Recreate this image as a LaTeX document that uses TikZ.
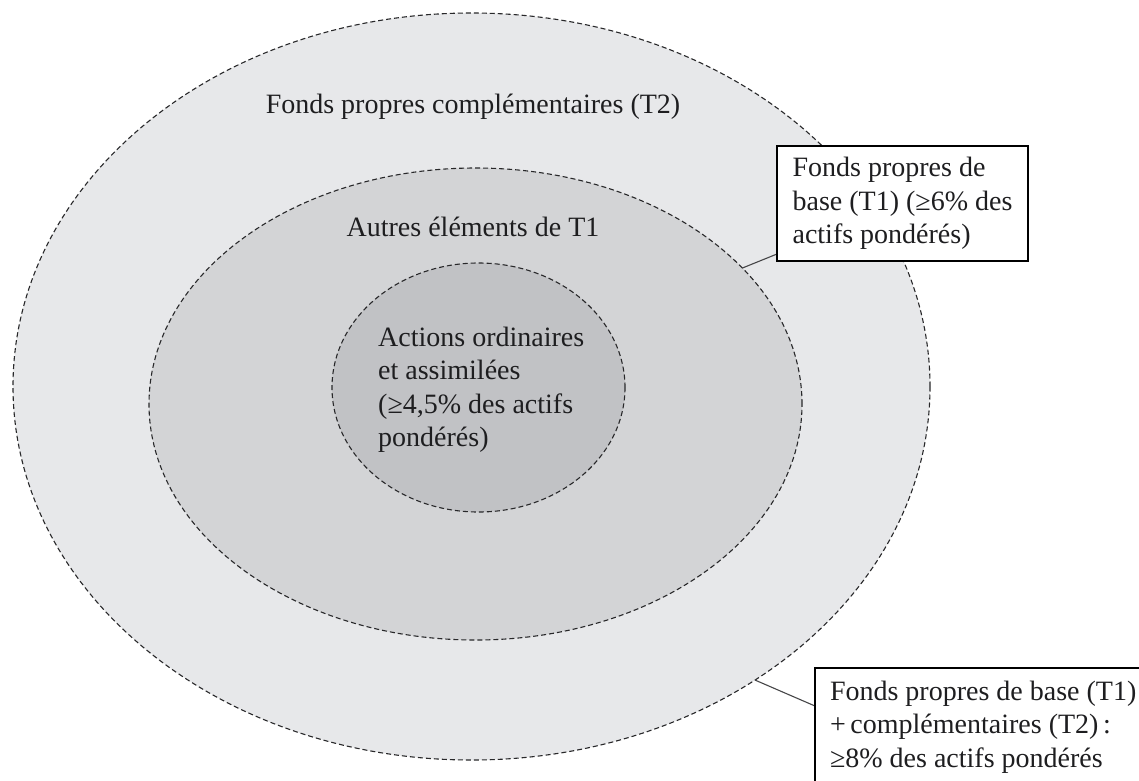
\documentclass[tikz,border=0pt]{standalone}
\usepackage{fontspec}
\setmainfont{Liberation Serif}
\usetikzlibrary{shapes.geometric,calc}
\definecolor{ringA}{RGB}{231,232,234}
\definecolor{ringB}{RGB}{211,212,214}
\definecolor{ringC}{RGB}{193,194,197}
\definecolor{dashcol}{RGB}{40,40,42}
\definecolor{txtcol}{RGB}{30,30,32}
\definecolor{linecol}{RGB}{70,70,72}
\begin{document}
\begin{tikzpicture}[x=1pt,y=-1pt,
  ring/.style={ellipse, draw=dashcol, line width=1.1pt, dash pattern=on 5pt off 3pt, inner sep=0pt, outer sep=0pt},
  lbl/.style={font=\fontsize{28}{33.5}\selectfont, text=txtcol, inner sep=0pt},
  callout/.style={draw=black, line width=1.4pt, fill=white, align=left, text=txtcol,
    font=\fontsize{28}{33.5}\selectfont, inner xsep=15pt, inner ysep=0pt, outer sep=0pt, anchor=north west},
  leader/.style={draw=linecol, line width=1.1pt}]
\useasboundingbox (0,0) rectangle (1139,780);
\fill[white] (0,0) rectangle (1139,780);
\node[ring, fill=ringA, minimum width=917pt, minimum height=747pt] (outer) at (471.5,386.5) {};
\node[ring, fill=ringB, minimum width=653pt, minimum height=472pt] (mid) at (475.5,404) {};
\node[ring, fill=ringC, minimum width=293pt, minimum height=249pt] (inner) at (478.5,387.5) {};
\node[lbl] (t2) at (473,107) {Fonds propres complémentaires (T2)};
\node[lbl] (t1) at (473,227) {Autres éléments de T1};
\node[lbl, align=left, anchor=west] (core) at (378,390) {Actions ordinaires\\et assimilées\\(≥4,5\% des actifs\\pondérés)};
\draw[leader] (mid.27) -- (777,254) coordinate (b1end);
\draw[leader] (outer.-46) -- (815,706) coordinate (b2end);
\node[callout, minimum width=251pt, minimum height=115pt] (b1) at (777,146) {Fonds propres de\\base (T1) (≥6\% des\\actifs pondérés)};
\node[callout, minimum height=118pt] (b2) at (815,668) {Fonds propres de base (T1)\\+\,complémentaires (T2)\,:\\≥8\% des actifs pondérés};
\end{tikzpicture}
\end{document}
